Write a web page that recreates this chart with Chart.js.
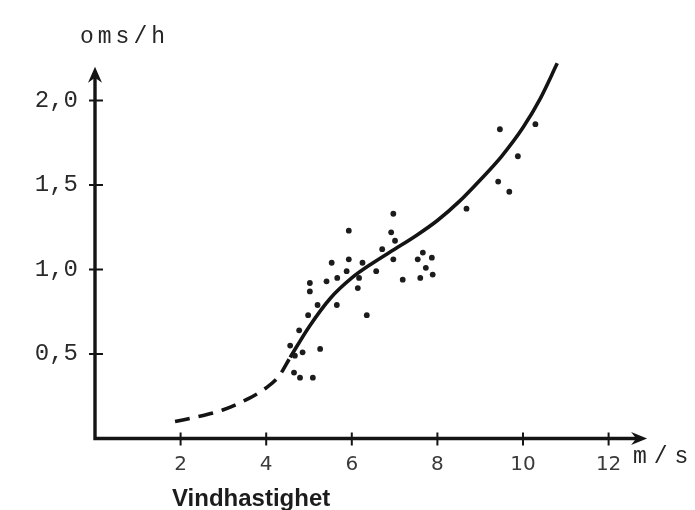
<!DOCTYPE html>
<html>
<head>
<meta charset="utf-8">
<script src="https://cdn.jsdelivr.net/npm/chart.js@4"></script>
<style>
  html, body { margin: 0; padding: 0; background: #fff; }
  canvas { display: block; }
</style>
</head>
<body>
<canvas id="vind" width="695" height="510"></canvas>
<script>
// measured points: wind speed (m/s) and rotations (oms/h)
const windSpeed = [6.97, 5.93, 6.92, 7.01, 6.71, 7.66, 5.53, 5.93, 6.25, 6.97, 7.54, 7.87,
  5.88, 6.57, 7.73, 5.66, 5.41, 5.02, 7.19, 7.60, 7.89, 5.02, 6.14, 6.17, 5.20, 5.65,
  4.98, 6.35, 4.77, 4.56, 5.26, 4.67, 4.85, 4.65, 4.79, 5.09, 8.68, 9.46, 10.29, 9.88,
  9.42, 9.68];
const rotations = [1.33, 1.23, 1.22, 1.17, 1.12, 1.10, 1.04, 1.06, 1.04, 1.06, 1.06, 1.07,
  0.99, 0.99, 1.01, 0.95, 0.93, 0.92, 0.94, 0.95, 0.97, 0.87, 0.89, 0.95, 0.79, 0.79,
  0.73, 0.73, 0.64, 0.55, 0.53, 0.49, 0.51, 0.39, 0.36, 0.36, 1.36, 1.83, 1.86, 1.67,
  1.52, 1.46];

// fitted curve through the measurements
const curveX = [4.56, 5.0, 5.5, 6.0, 6.5, 7.0, 7.5, 8.0, 8.5, 9.0, 9.5, 10.0, 10.4, 10.8];
const curveY = [0.48, 0.66, 0.83, 0.95, 1.04, 1.12, 1.20, 1.29, 1.40, 1.53, 1.67, 1.84, 2.01, 2.22];

// dashed part, extended down towards low wind
const dashX = [1.87, 2.5, 3.0, 3.5, 4.0, 4.3, 4.56];
const dashY = [0.10, 0.135, 0.17, 0.225, 0.30, 0.37, 0.48];

const xTicks = [2, 4, 6, 8, 10, 12];
const yTicks = [0.5, 1.0, 1.5, 2.0];

const ink = '#141414';

function pairs(xs, ys) {
  return xs.map((v, i) => ({ x: v, y: ys[i] }));
}

// axes with arrow heads, crossing tick marks and the axis texts
const axisArrows = {
  id: 'axisArrows',
  beforeDatasetsDraw(chart) {
    const { ctx, scales: { x, y } } = chart;
    const x0 = x.getPixelForValue(0);
    const y0 = y.getPixelForValue(0);
    const xEnd = x.getPixelForValue(12.9);
    const yEnd = y.getPixelForValue(2.2);

    ctx.save();
    ctx.strokeStyle = ink;
    ctx.fillStyle = ink;
    ctx.lineWidth = 3.4;
    ctx.beginPath();
    ctx.moveTo(x0, y0 + 1.7);
    ctx.lineTo(x0, yEnd + 8);
    ctx.moveTo(x0 - 1.7, y0);
    ctx.lineTo(xEnd - 8, y0);
    ctx.stroke();

    // arrow heads
    ctx.beginPath();
    ctx.moveTo(x0, yEnd);
    ctx.lineTo(x0 + 7, yEnd + 16);
    ctx.lineTo(x0, yEnd + 11);
    ctx.lineTo(x0 - 7, yEnd + 16);
    ctx.closePath();
    ctx.fill();
    ctx.beginPath();
    ctx.moveTo(xEnd, y0);
    ctx.lineTo(xEnd - 16, y0 - 6.5);
    ctx.lineTo(xEnd - 11, y0);
    ctx.lineTo(xEnd - 16, y0 + 6.5);
    ctx.closePath();
    ctx.fill();

    // tick marks
    ctx.lineWidth = 2;
    ctx.beginPath();
    xTicks.forEach(v => {
      const px = x.getPixelForValue(v);
      ctx.moveTo(px, y0 - 6);
      ctx.lineTo(px, y0 + 7);
    });
    yTicks.forEach(v => {
      const py = y.getPixelForValue(v);
      ctx.moveTo(x0 - 6, py);
      ctx.lineTo(x0 + 8, py);
    });
    ctx.stroke();

    // axis texts
    ctx.fillStyle = '#262626';
    ctx.textBaseline = 'alphabetic';
    ctx.textAlign = 'left';
    ctx.font = '23px "Liberation Mono"';
    ctx.letterSpacing = '4px';
    ctx.fillText('oms/h', 80, 43);
    ctx.letterSpacing = '7px';
    ctx.fillText('m/s', 633, 463);
    ctx.letterSpacing = '0px';
    ctx.fillStyle = '#1c1c1c';
    ctx.font = 'bold 24px "Liberation Sans"';
    ctx.fillText('Vindhastighet', 172, 506);
    ctx.restore();
  }
};

new Chart('vind', {
  type: 'scatter',
  data: {
    datasets: [{
        data: pairs(windSpeed, rotations),
        pointRadius: 2.9,
        pointBackgroundColor: '#1c1c1c',
        pointBorderWidth: 0
      },
      {
        data: pairs(curveX, curveY),
        showLine: true,
        borderColor: ink,
        borderWidth: 3.6,
        cubicInterpolationMode: 'monotone',
        pointRadius: 0
      },
      {
        data: pairs(dashX, dashY),
        showLine: true,
        borderColor: ink,
        borderWidth: 3.6,
        borderDash: [15, 9],
        cubicInterpolationMode: 'monotone',
        pointRadius: 0
      }
    ]
  },
  options: {
    responsive: false,
    animation: false,
    events: [],
    layout: {
      padding: { top: 41.35, right: 43.6, left: 0, bottom: 0 }
    },
    plugins: {
      legend: { display: false },
      tooltip: { enabled: false }
    },
    scales: {
      x: {
        type: 'linear',
        min: 0,
        max: 13,
        grid: { display: false, drawTicks: false },
        border: { display: false },
        afterFit(scale) { scale.height = 71.5; },
        ticks: {
          stepSize: 2,
          includeBounds: false,
          autoSkip: false,
          maxRotation: 0,
          padding: 14,
          color: '#3a3a3a',
          font: { family: '"DejaVu Sans"', size: 20 },
          callback: v => xTicks.includes(v) ? String(v) : ''
        }
      },
      y: {
        min: 0,
        max: 2.35,
        grid: { display: false, drawTicks: false },
        border: { display: false },
        afterFit(scale) { scale.width = 95; },
        ticks: {
          stepSize: 0.5,
          includeBounds: false,
          padding: 17,
          color: '#2a2a2a',
          font: { family: '"Liberation Mono"', size: 24 },
          callback: v => yTicks.includes(v) ? v.toFixed(1).replace('.', ',') : ''
        }
      }
    }
  },
  plugins: [axisArrows]
});
</script>
</body>
</html>
